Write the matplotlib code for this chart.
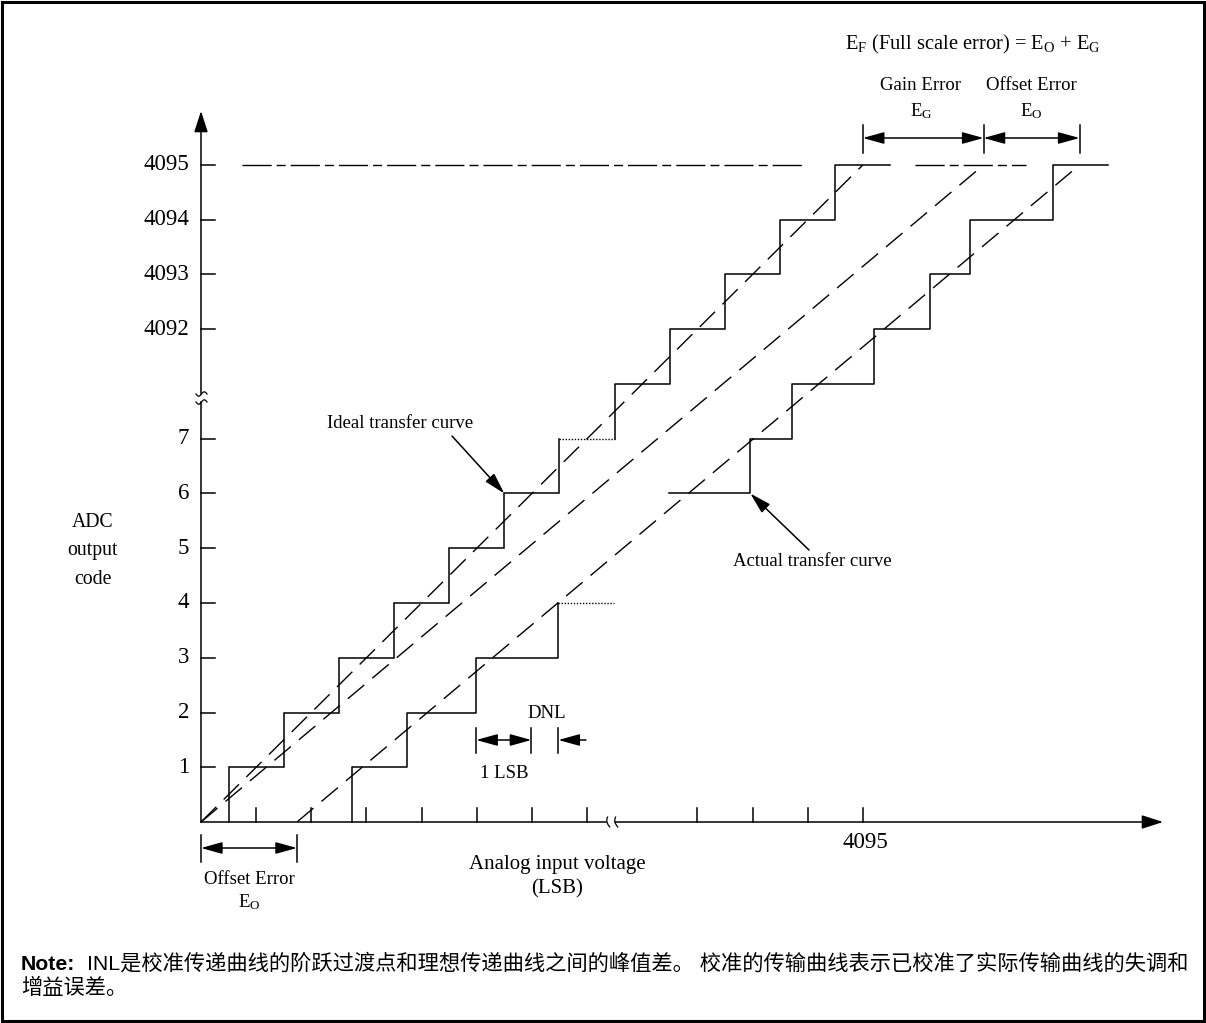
import matplotlib
matplotlib.use('Agg')
import matplotlib.pyplot as plt
import numpy as np

plt.rcParams['lines.scale_dashes'] = False
plt.rcParams['mathtext.fontset'] = 'custom'
plt.rcParams['mathtext.rm'] = 'Liberation Serif'
plt.rcParams['mathtext.it'] = 'Liberation Serif:italic'
plt.rcParams['mathtext.bf'] = 'Liberation Serif:bold'

# ---------------- data (x in LSB, y in code; axes are broken/compressed) -------------
y_tick_pos = [1, 2, 3, 4, 5, 6, 7, 9, 10, 11, 12]
y_tick_labels = ['1', '2', '3', '4', '5', '6', '7', '4092', '4093', '4094', '4095']
x_tick_pos = [1, 2, 3, 4, 5, 6, 7, 9, 10, 11, 12]
x_label_pos = [12]
x_labels = ['4095']

ideal_low_x = [0.5, 1.5, 2.5, 3.5, 4.5, 5.5, 6.5]
ideal_low_codes = [1, 2, 3, 4, 5, 6, 7]
ideal_high_x = [7.5, 8.5, 9.5, 10.5, 11.5]
ideal_high_codes = [8, 9, 10, 11, 12]
ideal_end = 12.5

actual_low_x = [2.74, 3.74, 4.99, 6.48]
actual_low_codes = [1, 2, 3, 4]
actual_high_start = 8.48
actual_high_start_code = 6
actual_high_x = [9.96, 10.71, 12.20, 13.21, 13.94, 15.44]
actual_high_codes = [7, 8, 9, 10, 11, 12]
actual_end = 16.44

full_scale = 12          # position of code 4095 / input 4095
offset_error = 1.74      # LSB
gain_line_end = 14.19    # where gain-error line reaches full scale
actual_line_end = offset_error + gain_line_end
fs_ref_segments = [(0.74, 10.97), (12.94, 14.96)]

# ---------------- pixel layout helpers ----------------
X0, UX = 201.0, 55.15
Y0, UY = 822.0, 54.75
def X(px):
    return (px - X0) / UX
def Y(py):
    return (Y0 - py) / UY

W, H = 1206, 1023
fig = plt.figure(figsize=(W / 100, H / 100), dpi=100)
ax = fig.add_axes([0, 0, 1, 1])
ax.set_xlim(X(0), X(W))
ax.set_ylim(Y(H), Y(0))
ax.axis('off')

fig.patches.append(plt.Rectangle((0.0017, 0.002), 0.9966, 0.996, transform=fig.transFigure,
                                 fill=False, lw=2.2, ec='black'))

SERIF = 'Liberation Serif'
FS = 13.5
TICK_FS = 16.5
LW = 1.1
K = 'black'

def stair(xs, codes, start_code=None, start_x=None, end_x=None):
    vx, vy = [], []
    if start_x is not None:
        vx.append(start_x); vy.append(start_code)
    prev = start_code
    for x, c in zip(xs, codes):
        if prev is not None:
            vx.append(x); vy.append(prev)
        vx.append(x); vy.append(c)
        prev = c
    if end_x is not None:
        vx.append(end_x); vy.append(prev)
    return vx, vy

# staircases
vx, vy = stair(ideal_low_x, ideal_low_codes, start_code=0)
ax.plot(vx, vy, color=K, lw=LW, solid_joinstyle='miter')
ax.plot([ideal_low_x[-1], ideal_high_x[0]], [ideal_low_codes[-1]] * 2, color=K, lw=1.0,
        linestyle=(0, (1, 1.2)))
vx, vy = stair(ideal_high_x, ideal_high_codes, start_code=ideal_low_codes[-1], end_x=ideal_end)
ax.plot(vx, vy, color=K, lw=LW)

vx, vy = stair(actual_low_x, actual_low_codes, start_code=0)
ax.plot(vx, vy, color=K, lw=LW)
ax.plot([actual_low_x[-1], actual_low_x[-1] + 1.0], [actual_low_codes[-1]] * 2, color=K, lw=1.0,
        linestyle=(0, (1, 1.2)))
vx, vy = stair(actual_high_x, actual_high_codes, start_code=actual_high_start_code,
               start_x=actual_high_start, end_x=actual_end)
ax.plot(vx, vy, color=K, lw=LW)

# dashed straight lines
dash = (0, (15.5, 7.5))
ax.plot([0, full_scale], [0, full_scale], color=K, lw=1.0, linestyle=dash)
ax.plot([0, gain_line_end], [0, full_scale], color=K, lw=1.0, linestyle=dash)
ax.plot([offset_error, actual_line_end], [0, full_scale], color=K, lw=1.0, linestyle=dash)

# full-scale reference dash-dot
for a, b in fs_ref_segments:
    ax.plot([a, b], [full_scale, full_scale], color=K, lw=1.0,
            linestyle=(0, (21, 3.6, 6.5, 3.6)))

# ---------------- axes ----------------
axis_kw = dict(arrowstyle='-|>,head_length=1.3,head_width=0.42', mutation_scale=10,
               shrinkA=0, shrinkB=0, lw=LW, color=K)
# y axis with break
ax.plot([0, 0], [0, Y(402)], color=K, lw=LW)
ax.annotate('', xy=(0, Y(111)), xytext=(0, Y(394)), arrowprops=axis_kw)
t = np.linspace(0, 1, 20)
for yb in (Y(394), Y(402)):
    xs = X(196) + (X(207) - X(196)) * t
    ys = yb + 0.04 * np.sin(2 * np.pi * t) * -1
    ax.plot(xs, ys, color=K, lw=0.9)
# x axis with break
ax.plot([0, X(606)], [0, 0], color=K, lw=LW)
ax.annotate('', xy=(X(1163), 0), xytext=(X(615), 0), arrowprops=axis_kw)
tt = np.linspace(-1, 1, 15)
for xb in (X(607), X(615)):
    ys = Y(822) + tt * 0.09
    xs = xb - 0.02 * tt + 0.03 * tt ** 2
    ax.plot(xs, ys, color=K, lw=0.9)

# ticks
tick_len_y = 14 / UY
tick_len_x = 14 / UX
for p in x_tick_pos:
    ax.plot([p, p], [0, tick_len_y], color=K, lw=LW)
for p, lab in zip(y_tick_pos, y_tick_labels):
    ax.plot([0, tick_len_x], [p, p], color=K, lw=LW)
    ax.text(X(189), p, lab, ha='right', va='center', family=SERIF, fontsize=TICK_FS)
for p, lab in zip(x_label_pos, x_labels):
    ax.text(p + 0.05, Y(843), lab, ha='center', va='center', family=SERIF, fontsize=TICK_FS)

# axis titles
for txt, py in (('ADC', 523), ('output', 551), ('code', 579)):
    ax.text(X(93), Y(py), txt, ha='center', va='center', family=SERIF, fontsize=14.2)
ax.text(X(557), Y(865), 'Analog input voltage', ha='center', va='center', family=SERIF, fontsize=15)
ax.text(X(557), Y(889), '(LSB)', ha='center', va='center', family=SERIF, fontsize=15)

# ---------------- dimension arrows ----------------
dim_kw = dict(arrowstyle='<|-|>,head_length=1.3,head_width=0.36', mutation_scale=10,
              shrinkA=0, shrinkB=0, lw=LW, color=K)
one_kw = dict(arrowstyle='-|>,head_length=1.3,head_width=0.36', mutation_scale=10,
              shrinkA=0, shrinkB=0, lw=LW, color=K)

def bar(x, py0, py1):
    ax.plot([x, x], [Y(py0), Y(py1)], color=K, lw=LW)

# offset error (bottom)
yo = Y(848)
ax.annotate('', xy=(0, yo), xytext=(offset_error, yo), arrowprops=dim_kw)
bar(0, 835, 862); bar(offset_error, 835, 862)
ax.text(offset_error / 2, Y(879), 'Offset Error', ha='center', va='center', family=SERIF, fontsize=FS)
ax.text(offset_error / 2, Y(902), r'E$_\mathregular{O}$', ha='center', va='center', family=SERIF, fontsize=FS)

# gain / offset error (top)
yt = Y(138)
ax.annotate('', xy=(full_scale, yt), xytext=(gain_line_end, yt), arrowprops=dim_kw)
ax.annotate('', xy=(gain_line_end, yt), xytext=(actual_line_end, yt), arrowprops=dim_kw)
for xb in (full_scale, gain_line_end, actual_line_end):
    bar(xb, 125, 153)
ax.text(X(921), Y(86), 'Gain Error', ha='center', va='center', family=SERIF, fontsize=FS)
ax.text(X(921), Y(111), r'E$_\mathregular{G}$', ha='center', va='center', family=SERIF, fontsize=FS)
ax.text(X(1031), Y(86), 'Offset Error', ha='center', va='center', family=SERIF, fontsize=FS)
ax.text(X(1031), Y(111), r'E$_\mathregular{O}$', ha='center', va='center', family=SERIF, fontsize=FS)
ax.text(X(973), Y(44), r'E$_\mathregular{F}$ (Full scale error) = E$_\mathregular{O}$ + E$_\mathregular{G}$',
        ha='center', va='center', family=SERIF, fontsize=14.8)

# DNL / 1 LSB
yd = Y(740)
w3 = actual_low_x[2]
ax.annotate('', xy=(w3, yd), xytext=(w3 + 1.0, yd), arrowprops=dim_kw)
bar(w3, 728, 753); bar(w3 + 1.0, 728, 753)
bar(actual_low_x[3], 728, 753)
ax.annotate('', xy=(actual_low_x[3], yd), xytext=(actual_low_x[3] + 0.5, yd), arrowprops=one_kw)
ax.text(X(547), Y(713), 'DNL', ha='center', va='center', family=SERIF, fontsize=FS)
ax.text(w3 + 0.5, Y(774), '1 LSB', ha='center', va='center', family=SERIF, fontsize=FS)

# curve labels
ax.annotate('', xy=(ideal_low_x[5], ideal_low_codes[5]), xytext=(X(452), Y(436)), arrowprops=one_kw)
ax.text(X(400), Y(424), 'Ideal transfer curve', ha='center', va='center', family=SERIF, fontsize=FS)
ax.annotate('', xy=(actual_high_x[0], actual_high_start_code), xytext=(X(809), Y(550)), arrowprops=one_kw)
ax.text(X(812), Y(562), 'Actual transfer curve', ha='center', va='center', family=SERIF, fontsize=FS)

# ---------------- note ----------------
fig.text(21 / W, 1 - 970 / H, 'Note:', ha='left', va='baseline', fontsize=15.3,
         family='Liberation Sans', weight='bold')
fig.text(87 / W, 1 - 970 / H, 'INL是校准传递曲线的阶跃过渡点和理想传递曲线之间的峰值差。 校准的传输曲线表示已校准了实际传输曲线的失调和',
         ha='left', va='baseline', fontsize=15.3, family=['Liberation Sans', 'Noto Sans CJK SC'])
fig.text(21 / W, 1 - 994 / H, '增益误差。', ha='left', va='baseline', fontsize=15.3,
         family=['Liberation Sans', 'Noto Sans CJK SC'])

fig.savefig('out.png', dpi=100)
